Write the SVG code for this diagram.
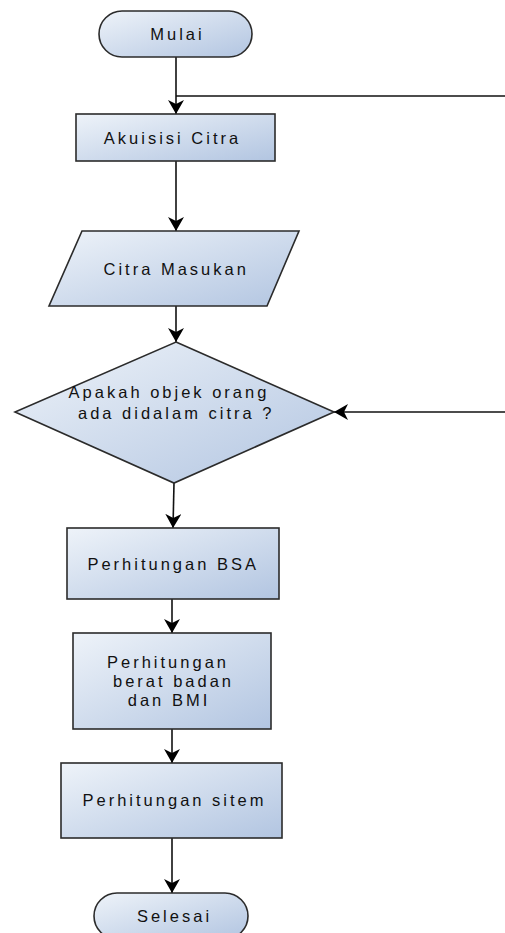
<svg xmlns="http://www.w3.org/2000/svg" width="505" height="933" viewBox="0 0 505 933">
<defs>
<linearGradient id="g" x1="0" y1="0" x2="1" y2="1">
<stop offset="0" stop-color="#eef3f9"/>
<stop offset="1" stop-color="#b2c5e1"/>
</linearGradient>
<marker id="ah" markerUnits="userSpaceOnUse" markerWidth="16" markerHeight="18" refX="14" refY="8" orient="auto">
<path d="M14,8 L0,0 L4,8 L0,16 Z" fill="#000"/>
</marker>
<style>
.n{fill:url(#g);stroke:#2b2b2b;stroke-width:1.6}
.t{font-family:"Liberation Sans",Arial,sans-serif;font-size:16.5px;letter-spacing:3px;fill:#111;text-anchor:middle}
.c{fill:none;stroke:#111;stroke-width:1.6}
</style>
</defs>
<g id="connectors">
<line class="c" x1="176" y1="57" x2="176" y2="114" marker-end="url(#ah)"/>
<line class="c" x1="176" y1="96" x2="505" y2="96"/>
<line class="c" x1="176" y1="161" x2="176" y2="231" marker-end="url(#ah)"/>
<line class="c" x1="176" y1="306" x2="176" y2="342" marker-end="url(#ah)"/>
<line class="c" x1="505" y1="412" x2="334" y2="412" marker-end="url(#ah)"/>
<line class="c" x1="174" y1="483" x2="173" y2="528" marker-end="url(#ah)"/>
<line class="c" x1="172" y1="599" x2="172" y2="633" marker-end="url(#ah)"/>
<line class="c" x1="172" y1="729" x2="172" y2="763" marker-end="url(#ah)"/>
<line class="c" x1="172" y1="838" x2="172" y2="893" marker-end="url(#ah)"/>
</g>
<g id="mulai">
<rect class="n" x="99" y="11" width="153" height="46" rx="23" ry="23"/>
<text class="t" x="177.5" y="40">Mulai</text>
</g>
<g id="akuisisi">
<rect class="n" x="76" y="114" width="199" height="47"/>
<text class="t" x="172.5" y="143.5">Akuisisi Citra</text>
</g>
<g id="citra-masukan">
<polygon class="n" points="82,231 299,231 267,306 49,306"/>
<text class="t" x="176.2" y="274.5">Citra Masukan</text>
</g>
<g id="decision">
<polygon class="n" points="176,342 334,412 174,483 15,412"/>
<text class="t" x="169" y="397.5">Apakah objek orang</text>
<text class="t" x="176.2" y="418.5">ada didalam citra ?</text>
</g>
<g id="bsa">
<rect class="n" x="67" y="528" width="212" height="71"/>
<text class="t" x="173.2" y="569.5">Perhitungan BSA</text>
</g>
<g id="berat">
<rect class="n" x="73" y="633" width="198" height="96"/>
<text class="t" x="168" y="668">Perhitungan</text>
<text class="t" x="173.5" y="687">berat badan</text>
<text class="t" x="169" y="705.5">dan BMI</text>
</g>
<g id="sistem">
<rect class="n" x="61" y="763" width="221" height="75"/>
<text class="t" x="174.5" y="806">Perhitungan sitem</text>
</g>
<g id="selesai">
<rect class="n" x="94" y="893" width="154" height="46" rx="23" ry="23"/>
<text class="t" x="174.5" y="922">Selesai</text>
</g>
</svg>
